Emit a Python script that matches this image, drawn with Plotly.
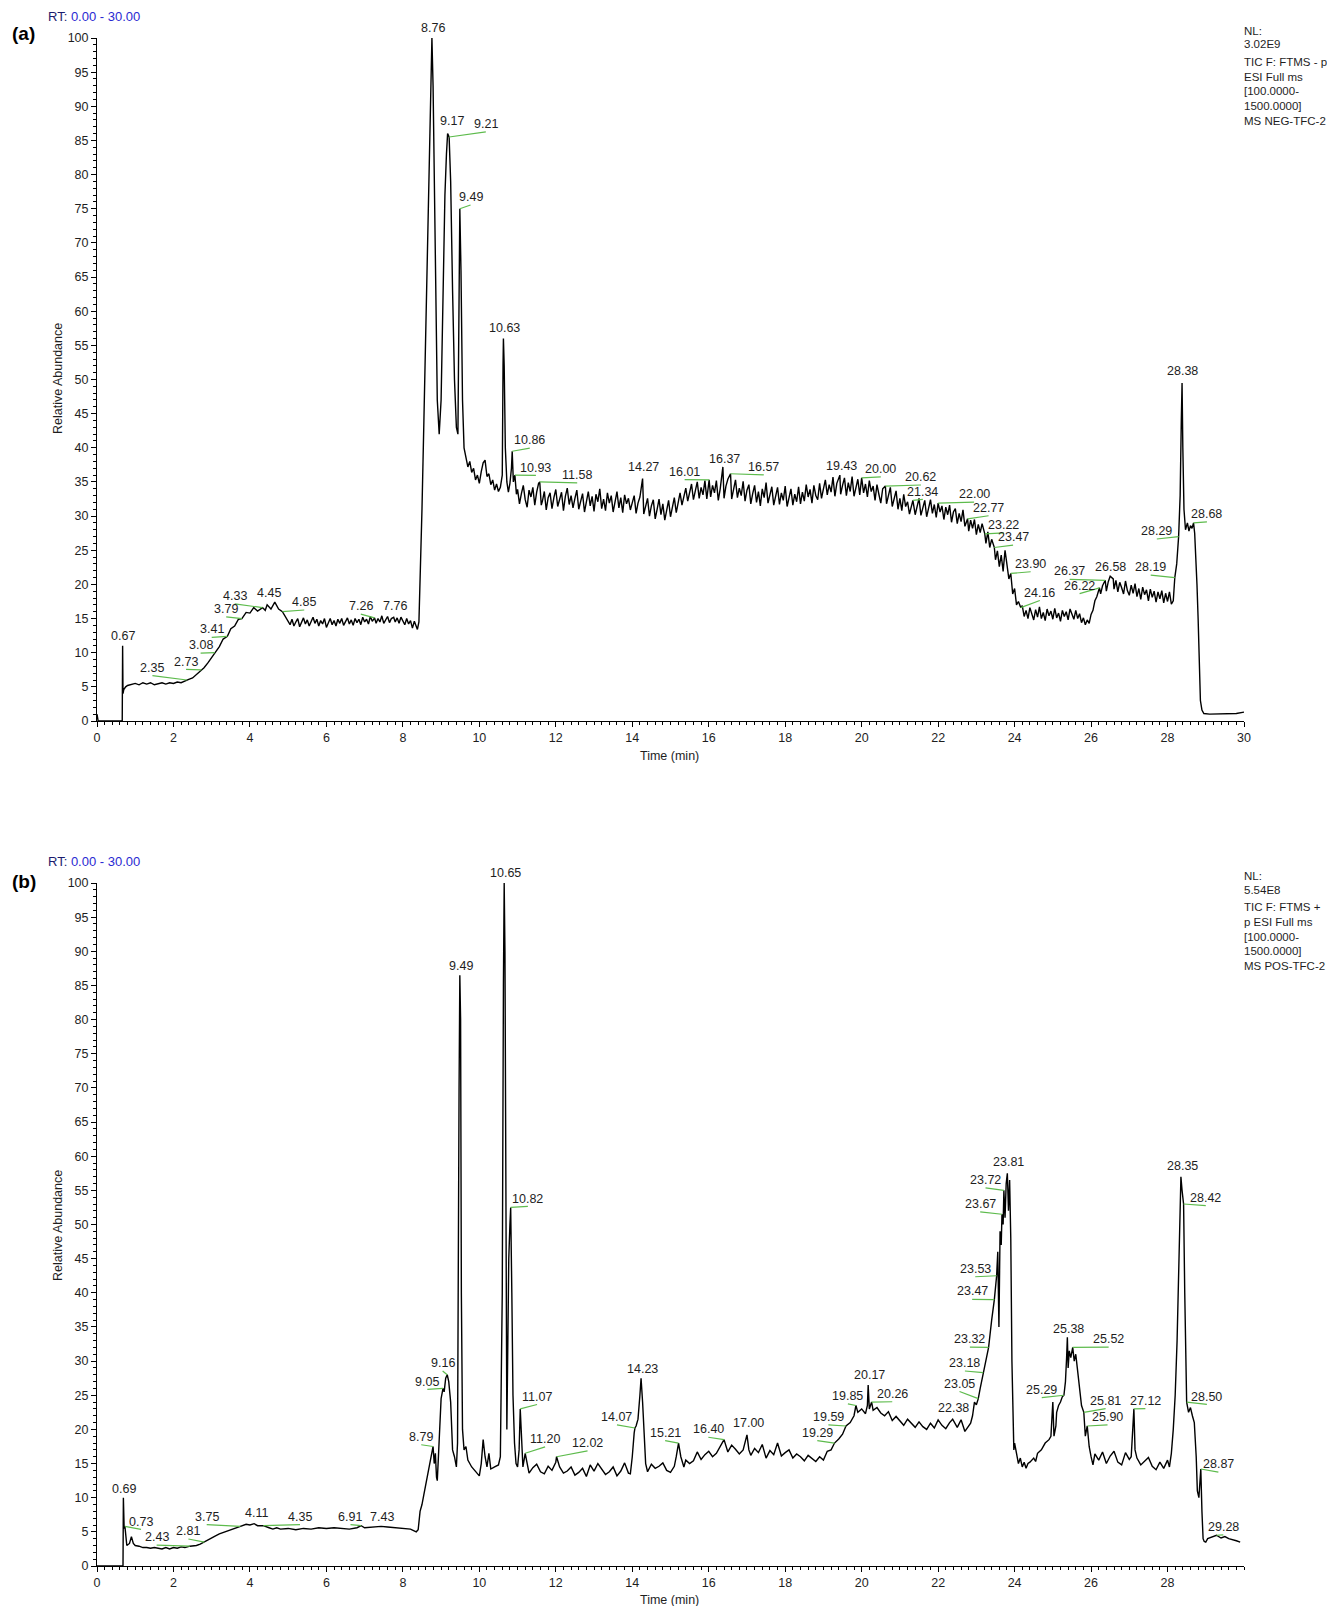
import plotly.graph_objects as go

# ---------------- data ----------------
# Panel (a): TIC negative mode, (retention time [min], relative abundance [%])
a_trace = [
    (0.00, 1.0), (0.03, 0.0), (0.66, 0.0), (0.67, 11.0), (0.68, 4.0), (0.70, 4.6), (0.75, 5.0), (0.80, 5.2), (0.90, 5.4),
    (1.0, 5.5), (1.1, 5.3), (1.2, 5.6), (1.3, 5.4), (1.4, 5.6), (1.5, 5.3), (1.6, 5.5), (1.7, 5.6), (1.8, 5.4), (1.9, 5.6),
    (2.0, 5.5), (2.1, 5.7), (2.2, 5.6), (2.3, 5.9), (2.35, 6.0), (2.4, 6.1), (2.5, 6.3), (2.6, 6.8), (2.73, 7.5), (2.8, 7.8), (2.9, 8.5),
    (3.0, 9.3), (3.08, 10.0), (3.2, 10.9), (3.3, 12.0), (3.41, 12.4), (3.5, 13.5), (3.6, 13.9), (3.7, 14.9), (3.79, 15.0), (3.9, 15.9),
    (4.0, 15.8), (4.1, 16.6), (4.2, 16.1), (4.33, 16.6), (4.4, 16.2), (4.45, 17.0), (4.55, 16.4), (4.65, 17.4), (4.75, 16.4),
    (4.85, 16.0), (4.95, 15.0),
    (5.00, 14.7), (5.05, 14.1), (5.10, 14.9), (5.15, 13.9), (5.20, 14.5), (5.25, 15.0), (5.30, 13.8), (5.35, 14.4), (5.40, 15.1),
    (5.45, 14.2), (5.50, 14.8), (5.55, 13.9), (5.60, 14.6), (5.65, 15.2), (5.70, 14.3), (5.75, 14.9), (5.80, 13.9), (5.85, 14.7),
    (5.90, 14.2), (5.95, 15.0), (6.00, 13.7), (6.05, 14.4), (6.10, 15.0), (6.15, 14.1), (6.20, 14.7), (6.25, 13.9), (6.30, 14.9),
    (6.35, 14.3), (6.40, 15.0), (6.45, 14.0), (6.50, 14.6), (6.55, 15.1), (6.60, 14.2), (6.65, 14.8), (6.70, 14.0), (6.75, 15.0),
    (6.80, 14.4), (6.85, 14.9), (6.90, 14.1), (6.95, 15.2), (7.00, 14.5), (7.05, 14.9), (7.10, 14.2), (7.15, 15.3), (7.20, 14.6),
    (7.26, 15.1), (7.30, 14.3), (7.35, 15.0), (7.40, 14.5), (7.45, 15.4), (7.50, 14.3), (7.55, 14.9), (7.60, 15.3), (7.65, 14.4),
    (7.70, 15.0), (7.76, 15.2), (7.80, 14.5), (7.85, 15.1), (7.90, 14.3), (7.95, 15.2), (8.00, 14.6), (8.05, 14.1), (8.10, 15.0),
    (8.15, 14.2), (8.20, 14.7), (8.25, 13.6), (8.30, 14.6), (8.35, 14.0), (8.38, 13.4), (8.42, 14.5),
    (8.45, 20.0), (8.5, 31.0), (8.55, 44.0), (8.6, 57.0), (8.65, 71.0), (8.7, 86.0), (8.73, 95.0), (8.76, 100.0), (8.79, 93.0),
    (8.82, 80.0), (8.86, 60.0), (8.9, 47.0), (8.95, 42.0), (9.0, 47.0), (9.05, 62.0), (9.1, 77.0), (9.14, 83.0), (9.17, 86.0),
    (9.21, 85.5), (9.25, 79.0), (9.3, 63.0), (9.35, 50.0), (9.4, 43.0), (9.44, 42.0), (9.47, 62.0), (9.49, 75.0), (9.52, 66.0),
    (9.56, 47.0), (9.6, 40.0), (9.65, 38.5), (9.7, 37.2), (9.75, 38.0), (9.8, 36.4), (9.85, 37.0), (9.9, 35.3), (9.95, 36.0),
    (10.0, 34.8), (10.05, 36.5), (10.1, 37.8), (10.15, 38.2), (10.2, 35.8), (10.25, 36.2), (10.3, 34.6), (10.35, 35.3),
    (10.4, 33.8), (10.45, 34.7), (10.5, 33.6), (10.55, 34.2), (10.6, 36.0), (10.62, 52.0), (10.63, 56.0), (10.65, 52.0),
    (10.68, 40.0), (10.72, 35.0), (10.76, 33.5), (10.8, 34.8), (10.84, 37.0), (10.86, 39.5), (10.89, 35.0), (10.93, 36.0), (10.97, 33.2),
    (11.00, 33.9), (11.05, 31.8), (11.10, 33.3), (11.15, 34.5), (11.20, 32.4), (11.25, 31.3), (11.30, 33.8), (11.35, 32.8),
    (11.40, 34.2), (11.45, 31.6), (11.50, 33.5), (11.55, 34.8), (11.58, 35.0), (11.62, 31.6), (11.65, 32.2), (11.70, 33.6),
    (11.75, 30.9), (11.80, 32.7), (11.85, 33.4), (11.90, 31.1), (11.95, 32.7), (12.00, 33.9), (12.05, 31.4), (12.10, 32.3),
    (12.15, 33.5), (12.20, 30.8), (12.25, 32.9), (12.30, 34.1), (12.35, 31.7), (12.40, 33.0), (12.45, 31.2), (12.50, 32.6),
    (12.55, 33.8), (12.60, 31.0), (12.65, 32.4), (12.70, 33.3), (12.75, 30.6), (12.80, 32.0), (12.85, 33.6), (12.90, 31.5),
    (12.95, 32.9), (13.00, 30.7), (13.05, 33.2), (13.10, 32.1), (13.15, 34.0), (13.20, 31.1), (13.25, 32.5), (13.30, 30.8),
    (13.35, 33.4), (13.40, 31.9), (13.45, 33.0), (13.50, 30.6), (13.55, 32.3), (13.60, 33.6), (13.65, 31.2), (13.70, 32.7),
    (13.75, 30.5), (13.80, 33.1), (13.85, 31.8), (13.90, 32.6), (13.95, 30.9), (14.00, 32.2), (14.05, 33.0), (14.10, 30.4),
    (14.15, 31.9), (14.20, 32.8), (14.27, 35.5), (14.30, 30.3), (14.35, 31.7), (14.40, 32.6), (14.45, 30.0), (14.50, 31.5),
    (14.55, 32.4), (14.60, 29.6), (14.65, 31.0), (14.70, 32.5), (14.75, 30.2), (14.80, 31.8), (14.85, 29.4), (14.90, 31.2),
    (14.95, 32.3), (15.00, 29.9), (15.05, 31.6), (15.10, 32.7), (15.15, 30.5), (15.20, 32.0), (15.25, 33.4), (15.30, 31.6),
    (15.35, 33.0), (15.40, 34.1), (15.45, 32.2), (15.50, 33.6), (15.55, 34.7), (15.60, 32.4), (15.65, 33.5), (15.70, 35.0),
    (15.75, 32.6), (15.80, 34.2), (15.85, 33.1), (15.90, 35.2), (15.95, 32.5), (16.01, 35.3), (16.05, 32.8), (16.10, 34.5),
    (16.15, 33.4), (16.20, 35.2), (16.25, 32.3), (16.30, 34.0), (16.37, 37.2), (16.40, 32.6), (16.45, 34.4), (16.50, 35.4),
    (16.57, 36.2), (16.60, 32.5), (16.65, 33.9), (16.70, 35.3), (16.75, 32.7), (16.80, 34.1), (16.85, 33.0), (16.90, 35.1),
    (16.95, 32.2), (17.00, 33.8), (17.05, 34.6), (17.10, 31.8), (17.15, 33.3), (17.20, 34.5), (17.25, 32.0), (17.30, 33.6),
    (17.35, 31.5), (17.40, 34.0), (17.45, 32.7), (17.50, 34.9), (17.55, 31.9), (17.60, 33.1), (17.65, 34.3), (17.70, 31.6),
    (17.75, 33.0), (17.80, 34.2), (17.85, 31.7), (17.90, 33.4), (17.95, 32.3), (18.00, 34.4), (18.05, 31.4), (18.10, 32.9),
    (18.15, 34.0), (18.20, 31.6), (18.25, 33.2), (18.30, 32.1), (18.35, 34.3), (18.40, 31.8), (18.45, 33.5), (18.50, 32.2),
    (18.55, 34.6), (18.60, 32.8), (18.65, 33.9), (18.70, 31.9), (18.75, 34.5), (18.80, 33.0), (18.85, 32.4), (18.90, 34.8),
    (18.95, 32.6), (19.00, 34.0), (19.05, 35.3), (19.10, 33.1), (19.15, 34.6), (19.20, 33.5), (19.25, 35.7), (19.30, 32.9),
    (19.35, 34.8), (19.43, 36.0), (19.45, 33.2), (19.50, 34.5), (19.55, 35.6), (19.60, 33.0), (19.65, 34.9), (19.70, 33.6),
    (19.75, 35.8), (19.80, 32.9), (19.85, 34.3), (19.90, 35.4), (19.95, 33.1), (20.00, 35.6), (20.05, 33.4), (20.10, 34.7),
    (20.15, 32.8), (20.20, 35.2), (20.25, 33.6), (20.30, 34.4), (20.35, 32.3), (20.40, 34.6), (20.45, 33.2), (20.50, 31.9),
    (20.55, 34.0), (20.62, 34.4), (20.65, 31.8), (20.70, 33.1), (20.75, 34.2), (20.80, 31.4), (20.85, 32.8), (20.90, 33.7),
    (20.95, 31.0), (21.00, 32.6), (21.05, 30.8), (21.10, 33.2), (21.15, 31.4), (21.20, 32.1), (21.25, 30.3), (21.34, 32.3),
    (21.40, 30.2), (21.45, 31.6), (21.50, 32.6), (21.55, 30.1), (21.60, 31.4), (21.65, 32.3), (21.70, 29.9), (21.75, 31.2),
    (21.80, 32.4), (21.85, 30.4), (21.90, 31.7), (21.95, 29.8), (22.00, 31.9), (22.05, 30.6), (22.10, 31.5), (22.15, 29.5),
    (22.20, 31.3), (22.25, 30.2), (22.30, 31.6), (22.35, 29.1), (22.40, 30.6), (22.45, 31.1), (22.50, 28.9), (22.55, 30.4),
    (22.60, 29.2), (22.65, 30.9), (22.70, 28.5), (22.77, 29.6), (22.80, 27.8), (22.85, 29.4), (22.90, 28.2), (22.95, 29.5),
    (23.00, 27.3), (23.05, 28.8), (23.10, 27.6), (23.15, 28.9), (23.22, 27.4), (23.25, 26.0), (23.30, 27.7), (23.35, 25.4),
    (23.40, 26.6), (23.47, 25.4), (23.50, 23.6), (23.55, 24.9), (23.60, 22.6), (23.65, 24.3), (23.70, 21.9), (23.75, 25.0),
    (23.80, 22.4), (23.85, 20.8), (23.90, 21.6), (23.95, 18.6), (24.00, 19.4), (24.05, 17.0), (24.10, 17.5), (24.16, 16.6),
    (24.20, 16.9), (24.25, 15.3), (24.30, 16.2), (24.35, 15.0), (24.40, 16.6), (24.45, 15.6), (24.50, 14.8), (24.55, 16.3),
    (24.60, 15.2), (24.65, 16.7), (24.70, 15.0), (24.75, 15.9), (24.80, 14.7), (24.85, 16.4), (24.90, 15.4), (24.95, 16.1),
    (25.00, 14.9), (25.05, 16.5), (25.10, 15.1), (25.15, 15.8), (25.20, 14.6), (25.25, 16.2), (25.30, 15.3), (25.35, 16.0),
    (25.40, 14.8), (25.45, 16.4), (25.50, 15.5), (25.55, 14.9), (25.60, 16.2), (25.65, 15.0), (25.70, 15.7), (25.75, 14.4),
    (25.80, 15.1), (25.85, 14.1), (25.90, 14.8), (25.95, 14.3), (26.00, 15.6), (26.05, 16.2), (26.10, 17.6), (26.15, 18.2),
    (26.22, 19.5), (26.25, 18.6), (26.30, 19.8), (26.37, 20.6), (26.40, 19.0), (26.45, 20.4), (26.50, 21.2), (26.58, 20.8),
    (26.60, 19.3), (26.65, 20.6), (26.70, 18.9), (26.75, 20.3), (26.80, 19.5), (26.85, 18.6), (26.90, 20.5), (26.95, 19.1),
    (27.00, 18.4), (27.05, 19.9), (27.10, 18.7), (27.15, 20.1), (27.20, 18.2), (27.25, 19.4), (27.30, 17.8), (27.35, 19.6),
    (27.40, 18.5), (27.45, 19.2), (27.50, 17.6), (27.55, 19.3), (27.60, 18.1), (27.65, 19.0), (27.70, 17.4), (27.75, 18.9),
    (27.80, 17.9), (27.85, 19.1), (27.90, 17.3), (27.95, 18.7), (28.00, 17.5), (28.05, 18.9), (28.10, 17.1), (28.15, 17.6),
    (28.19, 21.0), (28.24, 23.0), (28.29, 27.0), (28.33, 33.0), (28.36, 44.0), (28.38, 49.5), (28.4, 40.0), (28.43, 31.0), (28.47, 28.0),
    (28.52, 29.0), (28.56, 27.8), (28.6, 28.6), (28.64, 28.2), (28.68, 29.0), (28.71, 27.5), (28.74, 22.0), (28.77, 20.0), (28.8, 15.0),
    (28.83, 8.0), (28.86, 3.0), (28.9, 1.6), (28.95, 1.1), (29.1, 1.0), (29.5, 1.0), (29.8, 1.1), (30.0, 1.3),
]

# Panel (b): TIC positive mode
b_trace = [
    (0.00, 0.0), (0.68, 0.0), (0.69, 10.0), (0.71, 5.5), (0.73, 5.8), (0.78, 3.0), (0.85, 3.3), (0.90, 4.3), (0.95, 3.3),
    (1.0, 3.0), (1.1, 2.9), (1.2, 2.7), (1.3, 2.7), (1.4, 2.6), (1.5, 2.7), (1.6, 2.6), (1.7, 2.5), (1.8, 2.7), (1.9, 2.5),
    (2.0, 2.7), (2.1, 2.6), (2.2, 2.8), (2.3, 2.7), (2.43, 2.9), (2.5, 2.9), (2.6, 3.0), (2.7, 3.2), (2.81, 3.5), (2.9, 3.8),
    (3.0, 4.1), (3.1, 4.4), (3.2, 4.7), (3.3, 4.9), (3.4, 5.1), (3.5, 5.3), (3.6, 5.5), (3.75, 5.8), (3.9, 6.1), (4.0, 6.0),
    (4.11, 6.2), (4.2, 5.9), (4.35, 5.9), (4.5, 5.6), (4.6, 5.4), (4.7, 5.6), (4.8, 5.4), (5.0, 5.5), (5.2, 5.3), (5.4, 5.5),
    (5.6, 5.4), (5.8, 5.6), (6.0, 5.5), (6.2, 5.6), (6.4, 5.5), (6.6, 5.4), (6.8, 5.6), (6.91, 5.9), (7.0, 5.6), (7.2, 5.7),
    (7.43, 5.8), (7.6, 5.7), (7.8, 5.6), (8.0, 5.6), (8.2, 5.4), (8.35, 5.0), (8.4, 5.3), (8.45, 8.0), (8.5, 9.0), (8.55, 10.5),
    (8.6, 12.0), (8.65, 13.0), (8.7, 15.0), (8.75, 16.0), (8.79, 17.5), (8.82, 15.0), (8.85, 16.5), (8.88, 13.0), (8.9, 12.5),
    (8.93, 16.0), (8.97, 22.0), (9.0, 24.5), (9.05, 26.0), (9.08, 25.5), (9.12, 27.5), (9.16, 28.0), (9.2, 27.0), (9.25, 24.0),
    (9.3, 17.0), (9.35, 16.0), (9.4, 14.5), (9.43, 18.0), (9.47, 70.0), (9.49, 86.5), (9.51, 80.0), (9.53, 40.0), (9.56, 20.0),
    (9.6, 17.0), (9.65, 17.5), (9.7, 15.5), (9.8, 14.5), (9.9, 13.8), (10.0, 13.2), (10.05, 15.0), (10.1, 18.5), (10.15, 16.0),
    (10.2, 14.5), (10.25, 16.5), (10.3, 14.2), (10.4, 14.5), (10.5, 14.8), (10.55, 16.0), (10.6, 40.0), (10.63, 85.0),
    (10.65, 100.0), (10.67, 90.0), (10.7, 50.0), (10.72, 20.0), (10.74, 30.0), (10.77, 45.0), (10.8, 50.0), (10.82, 52.5),
    (10.85, 40.0), (10.88, 25.0), (10.92, 18.0), (10.96, 15.0), (11.0, 14.5), (11.04, 17.0), (11.07, 23.0), (11.1, 18.0),
    (11.14, 14.5), (11.2, 16.5), (11.3, 13.6), (11.4, 14.4), (11.5, 14.9), (11.6, 13.8), (11.7, 13.5), (11.8, 14.6), (11.9, 14.0),
    (12.0, 15.2), (12.02, 16.0), (12.1, 14.5), (12.2, 13.6), (12.3, 13.9), (12.4, 14.5), (12.5, 13.3), (12.6, 13.7), (12.7, 14.3),
    (12.8, 13.1), (12.9, 14.8), (13.0, 13.9), (13.1, 15.0), (13.2, 14.1), (13.3, 13.4), (13.4, 13.8), (13.5, 14.5), (13.6, 13.2),
    (13.7, 13.9), (13.8, 15.1), (13.9, 13.6), (13.95, 13.5), (14.0, 16.0), (14.05, 19.5), (14.07, 20.2), (14.1, 20.5), (14.15, 21.5),
    (14.2, 25.0), (14.23, 27.5), (14.27, 24.0), (14.3, 20.0), (14.35, 15.0), (14.4, 13.8), (14.5, 14.9), (14.6, 14.3), (14.7, 14.6),
    (14.8, 15.1), (14.9, 14.0), (15.0, 13.7), (15.1, 14.6), (15.15, 16.0), (15.21, 18.0), (15.27, 16.0), (15.35, 14.5), (15.4, 15.5),
    (15.5, 15.0), (15.6, 15.4), (15.7, 16.7), (15.8, 15.6), (15.9, 16.3), (16.0, 16.8), (16.1, 16.0), (16.2, 16.5), (16.3, 17.4),
    (16.4, 18.5), (16.5, 16.7), (16.6, 17.7), (16.7, 17.1), (16.8, 16.4), (16.9, 17.0), (17.0, 19.2), (17.05, 17.0), (17.1, 16.2),
    (17.2, 17.2), (17.3, 16.6), (17.4, 17.8), (17.5, 15.8), (17.6, 16.9), (17.7, 16.3), (17.8, 18.0), (17.9, 16.1), (18.0, 16.6),
    (18.1, 17.0), (18.2, 15.8), (18.3, 16.4), (18.4, 16.0), (18.5, 15.4), (18.6, 16.2), (18.7, 15.8), (18.8, 15.3), (18.9, 16.0),
    (19.0, 15.5), (19.1, 16.8), (19.2, 17.0), (19.29, 18.0), (19.4, 18.6), (19.5, 19.3), (19.59, 20.5), (19.7, 21.0), (19.8, 22.0),
    (19.85, 23.5), (19.9, 22.5), (20.0, 23.0), (20.1, 22.3), (20.15, 23.5), (20.17, 26.5), (20.2, 23.0), (20.26, 24.0), (20.3, 22.8),
    (20.4, 23.2), (20.5, 22.4), (20.6, 22.0), (20.7, 22.6), (20.8, 21.3), (20.9, 21.9), (21.0, 21.2), (21.1, 20.6), (21.2, 21.5),
    (21.3, 20.9), (21.4, 20.3), (21.5, 21.1), (21.6, 20.4), (21.7, 20.0), (21.8, 20.9), (21.9, 20.2), (22.0, 21.4), (22.1, 20.6),
    (22.2, 20.1), (22.3, 21.0), (22.38, 21.5), (22.5, 20.3), (22.6, 21.4), (22.7, 19.7), (22.8, 20.6), (22.85, 20.9), (22.9, 22.0),
    (22.95, 24.0), (23.0, 23.6), (23.05, 24.5), (23.1, 26.0), (23.18, 28.3), (23.25, 30.0), (23.32, 32.0), (23.4, 36.0),
    (23.47, 39.0), (23.53, 42.5), (23.56, 46.0), (23.59, 35.0), (23.62, 49.0), (23.65, 47.0), (23.67, 51.5), (23.7, 50.0),
    (23.72, 55.0), (23.75, 51.0), (23.78, 56.0), (23.81, 57.5), (23.84, 52.0), (23.87, 56.5), (23.9, 48.0), (23.93, 30.0),
    (23.96, 20.0), (23.98, 17.0), (24.0, 18.0), (24.05, 16.5), (24.1, 15.0), (24.15, 15.8), (24.2, 14.5), (24.25, 15.2),
    (24.3, 14.3), (24.35, 15.0), (24.4, 15.2), (24.5, 15.8), (24.55, 15.3), (24.6, 16.5), (24.7, 17.0), (24.8, 18.0), (24.9, 18.5),
    (24.95, 19.0), (25.0, 24.0), (25.03, 19.0), (25.08, 20.5), (25.1, 22.5), (25.15, 23.5), (25.2, 24.0), (25.25, 24.8),
    (25.29, 25.0), (25.33, 27.0), (25.36, 30.5), (25.38, 33.5), (25.4, 29.0), (25.43, 31.5), (25.47, 30.5), (25.5, 31.2),
    (25.52, 32.0), (25.56, 30.0), (25.6, 31.0), (25.64, 29.0), (25.7, 26.0), (25.75, 23.5), (25.81, 22.5), (25.85, 19.0),
    (25.9, 20.5), (25.95, 17.5), (26.0, 16.0), (26.05, 14.8), (26.1, 16.4), (26.2, 15.5), (26.3, 16.7), (26.4, 15.0), (26.5, 16.1),
    (26.6, 16.8), (26.7, 15.2), (26.8, 14.8), (26.9, 16.6), (27.0, 15.6), (27.05, 16.0), (27.1, 22.0), (27.12, 23.0), (27.15, 17.0),
    (27.2, 15.8), (27.3, 14.8), (27.4, 15.4), (27.5, 15.9), (27.6, 14.6), (27.7, 14.1), (27.8, 15.2), (27.9, 14.3), (28.0, 15.5),
    (28.05, 14.5), (28.1, 16.5), (28.15, 20.0), (28.2, 25.0), (28.25, 33.0), (28.3, 45.0), (28.35, 57.0), (28.38, 55.0),
    (28.42, 53.0), (28.45, 40.0), (28.48, 28.0), (28.5, 24.0), (28.55, 22.5), (28.6, 23.2), (28.65, 22.0), (28.7, 21.0),
    (28.75, 16.0), (28.78, 11.0), (28.82, 10.0), (28.85, 14.0), (28.87, 14.2), (28.9, 8.0), (28.93, 4.0), (28.96, 3.6),
    (29.0, 3.5), (29.05, 4.0), (29.15, 4.2), (29.28, 4.5), (29.4, 4.1), (29.5, 4.3), (29.6, 4.0), (29.7, 3.9), (29.8, 3.7), (29.9, 3.5),
]

a_time = [p[0] for p in a_trace]
a_abund = [p[1] for p in a_trace]
b_time = [p[0] for p in b_trace]
b_abund = [p[1] for p in b_trace]

# labelled peaks: retention time and apex height
a_peak_rt = [0.67, 2.35, 2.73, 3.08, 3.41, 3.79, 4.33, 4.45, 4.85, 7.26, 7.76, 8.76, 9.17, 9.21, 9.49, 10.63,
             10.86, 10.93, 11.58, 14.27, 16.01, 16.37, 16.57, 19.43, 20.00, 20.62, 21.34, 22.00, 22.77, 23.22,
             23.47, 23.90, 24.16, 26.37, 26.22, 26.58, 28.19, 28.29, 28.38, 28.68]
a_peak_height = [11.0, 6.0, 7.5, 10.0, 12.4, 15.0, 16.6, 17.0, 16.0, 15.1, 15.2, 100.0, 86.0, 85.5, 75.0, 56.0,
                 39.5, 36.0, 35.0, 35.5, 35.3, 37.2, 36.2, 36.0, 35.6, 34.4, 32.3, 31.9, 29.6, 27.4,
                 25.4, 21.6, 16.6, 20.6, 19.5, 20.8, 21.0, 27.0, 49.5, 29.0]

b_peak_rt = [0.69, 0.73, 2.43, 2.81, 3.75, 4.11, 4.35, 6.91, 7.43, 8.79, 9.05, 9.16, 9.49, 10.65, 10.82, 11.07,
             11.20, 12.02, 14.07, 14.23, 15.21, 16.40, 17.00, 19.29, 19.59, 19.85, 20.17, 20.26, 22.38, 23.05,
             23.18, 23.32, 23.47, 23.53, 23.67, 23.72, 23.81, 25.29, 25.38, 25.52, 25.81, 25.90, 27.12, 28.35,
             28.42, 28.50, 28.87, 29.28]
b_peak_height = [10.0, 5.8, 2.9, 3.5, 5.8, 6.2, 5.9, 5.9, 5.8, 17.5, 26.0, 28.0, 86.5, 100.0, 52.5, 23.0,
                 16.5, 16.0, 20.2, 27.5, 18.0, 18.5, 19.2, 18.0, 20.5, 23.5, 26.5, 24.0, 21.5, 24.5,
                 28.3, 32.0, 39.0, 42.5, 51.5, 55.0, 57.5, 25.0, 33.5, 32.0, 22.5, 20.5, 23.0, 57.0,
                 53.0, 24.0, 14.2, 4.5]

x_ticks_a = list(range(0, 31, 2))
x_ticks_b = list(range(0, 29, 2))
y_ticks = list(range(0, 101, 5))

# ---------------- layout (positions of the peak labels, in axis units) ----------------
a_label_pos = [(0.67, 12.4), (1.45, 7.8), (2.33, 8.7), (2.71, 11.1), (3.00, 13.4), (3.38, 16.4), (3.60, 18.3),
               (4.50, 18.8), (5.42, 17.4), (6.90, 16.8), (7.80, 16.8), (8.80, 101.4), (9.28, 87.8), (10.17, 87.4),
               (9.77, 76.7), (10.65, 57.6), (11.32, 41.1), (11.48, 37.1), (12.56, 36.0), (14.30, 37.2), (15.37, 36.5),
               (16.42, 38.4), (17.44, 37.2), (19.48, 37.4), (20.50, 36.9), (21.55, 35.7), (21.60, 33.6), (22.94, 33.2),
               (23.32, 31.2), (23.72, 28.7), (23.96, 26.9), (24.42, 23.0), (24.66, 18.8), (25.44, 21.9), (25.70, 19.8),
               (26.51, 22.5), (27.56, 22.5), (27.72, 27.8), (28.39, 51.2), (29.03, 30.3)]
b_label_pos = [(0.70, 11.3), (1.15, 6.5), (1.56, 4.2), (2.39, 5.1), (2.87, 7.2), (4.16, 7.7), (5.31, 7.2),
               (6.63, 7.2), (7.46, 7.2), (8.48, 18.9), (8.64, 27.0), (9.04, 29.7), (9.52, 87.9), (10.68, 101.4),
               (11.27, 53.8), (11.51, 24.8), (11.72, 18.6), (12.83, 18.0), (13.60, 21.8), (14.27, 28.9), (14.86, 19.5),
               (15.99, 20.0), (17.04, 20.9), (18.84, 19.5), (19.13, 21.8), (19.64, 24.9), (20.20, 27.9), (20.80, 25.2),
               (22.40, 23.1), (22.56, 26.7), (22.70, 29.7), (22.83, 33.2), (22.89, 40.2), (22.97, 43.5), (23.10, 53.0),
               (23.24, 56.5), (23.83, 59.2), (24.71, 25.8), (25.41, 34.7), (26.46, 33.2), (26.38, 24.2), (26.43, 21.8),
               (27.42, 24.2), (28.39, 58.5), (29.00, 53.9), (29.03, 24.8), (29.33, 14.9), (29.46, 5.7)]

W, H = 1335, 1606
ML, MR, MT, MB = 89, 99, 30, 48
PW, PH = W - ML - MR, H - MT - MB


def paper(px, py):
    return (px - ML) / PW, (H - MB - py) / PH


FONT = "Liberation Sans, Arial, sans-serif"
TXT = "#1e1e1e"
GREEN = "#5dbb4c"

fig = go.Figure()
fig.add_trace(go.Scatter(x=a_time, y=a_abund, mode="lines", line=dict(color="black", width=1.4),
                         xaxis="x", yaxis="y", hoverinfo="skip", showlegend=False))
fig.add_trace(go.Scatter(x=b_time, y=b_abund, mode="lines", line=dict(color="black", width=1.4),
                         xaxis="x2", yaxis="y2", hoverinfo="skip", showlegend=False))

dom_a = [(H - MB - 713) / PH, 1.0]
dom_b = [0.0, (H - MB - 875) / PH]

common_x = dict(range=[0, 30], showgrid=False, zeroline=False, showline=True, linecolor="black", linewidth=1,
                ticks="outside", ticklen=5, tickwidth=1, tickcolor="black",
                tickfont=dict(family=FONT, size=12.5, color=TXT),
                minor=dict(ticks="outside", ticklen=3, tickwidth=1, tickcolor="black", dtick=0.2, tick0=0, showgrid=False))
common_y = dict(range=[0, 100], showgrid=False, zeroline=False, showline=True, linecolor="black", linewidth=1,
                ticks="outside", ticklen=5, tickwidth=1, tickcolor="black", tickvals=y_ticks,
                ticktext=[str(v) for v in y_ticks], tickfont=dict(family=FONT, size=12.5, color=TXT),
                minor=dict(ticks="outside", ticklen=3, tickwidth=1, tickcolor="black", dtick=1, tick0=0, showgrid=False))

fig.update_layout(
    width=W, height=H, margin=dict(l=ML, r=MR, t=MT, b=MB),
    paper_bgcolor="white", plot_bgcolor="white", showlegend=False,
    xaxis=dict(common_x, domain=[0, 1], anchor="y", tickvals=x_ticks_a, ticktext=[str(v) for v in x_ticks_a]),
    yaxis=dict(common_y, domain=dom_a, anchor="x"),
    xaxis2=dict(common_x, domain=[0, 1], anchor="y2", tickvals=x_ticks_b, ticktext=[str(v) for v in x_ticks_b]),
    yaxis2=dict(common_y, domain=dom_b, anchor="x2"),
)

annotations = []
shapes = []


def add_peak_labels(rts, heights, positions, xr, yr):
    for rt, h, (lx, ly) in zip(rts, heights, positions):
        annotations.append(dict(x=lx, y=ly / 100.0, xref=xr, yref=yr + " domain", text=f"{rt:.2f}", showarrow=False,
                                xanchor="center", yanchor="middle",
                                font=dict(family=FONT, size=12.5, color=TXT)))
        if abs(lx - rt) > 0.12:
            shapes.append(dict(type="line", xref=xr, yref=yr, x0=lx, y0=ly - 1.15, x1=rt, y1=h,
                               line=dict(color=GREEN, width=1.2), layer="above"))


add_peak_labels(a_peak_rt, a_peak_height, a_label_pos, "x", "y")
add_peak_labels(b_peak_rt, b_peak_height, b_label_pos, "x2", "y2")


def text_px(px, py, text, size=12, color=TXT, xanchor="left", bold=False, angle=0):
    x, y = paper(px, py)
    t = f"<b>{text}</b>" if bold else text
    annotations.append(dict(x=x, y=y, xref="paper", yref="paper", text=t, showarrow=False,
                            xanchor=xanchor, yanchor="middle", textangle=angle,
                            font=dict(family=FONT, size=size, color=color)))


RT_TEXT = "<span style='color:#1b1b6e'>RT:</span> 0.00 - 30.00"
panels = [
    dict(tag="(a)", tag_y=25, rt_y=8.5, title_y=748, ylab_y=371, nl_y0=23,
         nl=["NL:", "3.02E9", "TIC F: FTMS - p", "ESI Full ms", "[100.0000-", "1500.0000]", "MS NEG-TFC-2"]),
    dict(tag="(b)", tag_y=874, rt_y=854, title_y=1592, ylab_y=1218, nl_y0=868,
         nl=["NL:", "5.54E8", "TIC F: FTMS +", "p ESI Full ms", "[100.0000-", "1500.0000]", "MS POS-TFC-2"]),
]
nl_offsets = [0, 13.5, 31, 46, 60.5, 75, 89.5]
for p in panels:
    text_px(2, p["tag_y"], p["tag"], size=19, color="black", bold=True)
    text_px(38, p["rt_y"], RT_TEXT, size=13, color="#2a2ad2")
    text_px(661, p["title_y"], "Time (min)", size=12.5, xanchor="center")
    text_px(50, p["ylab_y"], "Relative Abundance", size=12.5, xanchor="center", angle=-90)
    for off, line in zip(nl_offsets, p["nl"]):
        text_px(1234, p["nl_y0"] + off, line, size=11.5)

fig.update_layout(annotations=annotations, shapes=shapes)
fig.write_html("out.html")
